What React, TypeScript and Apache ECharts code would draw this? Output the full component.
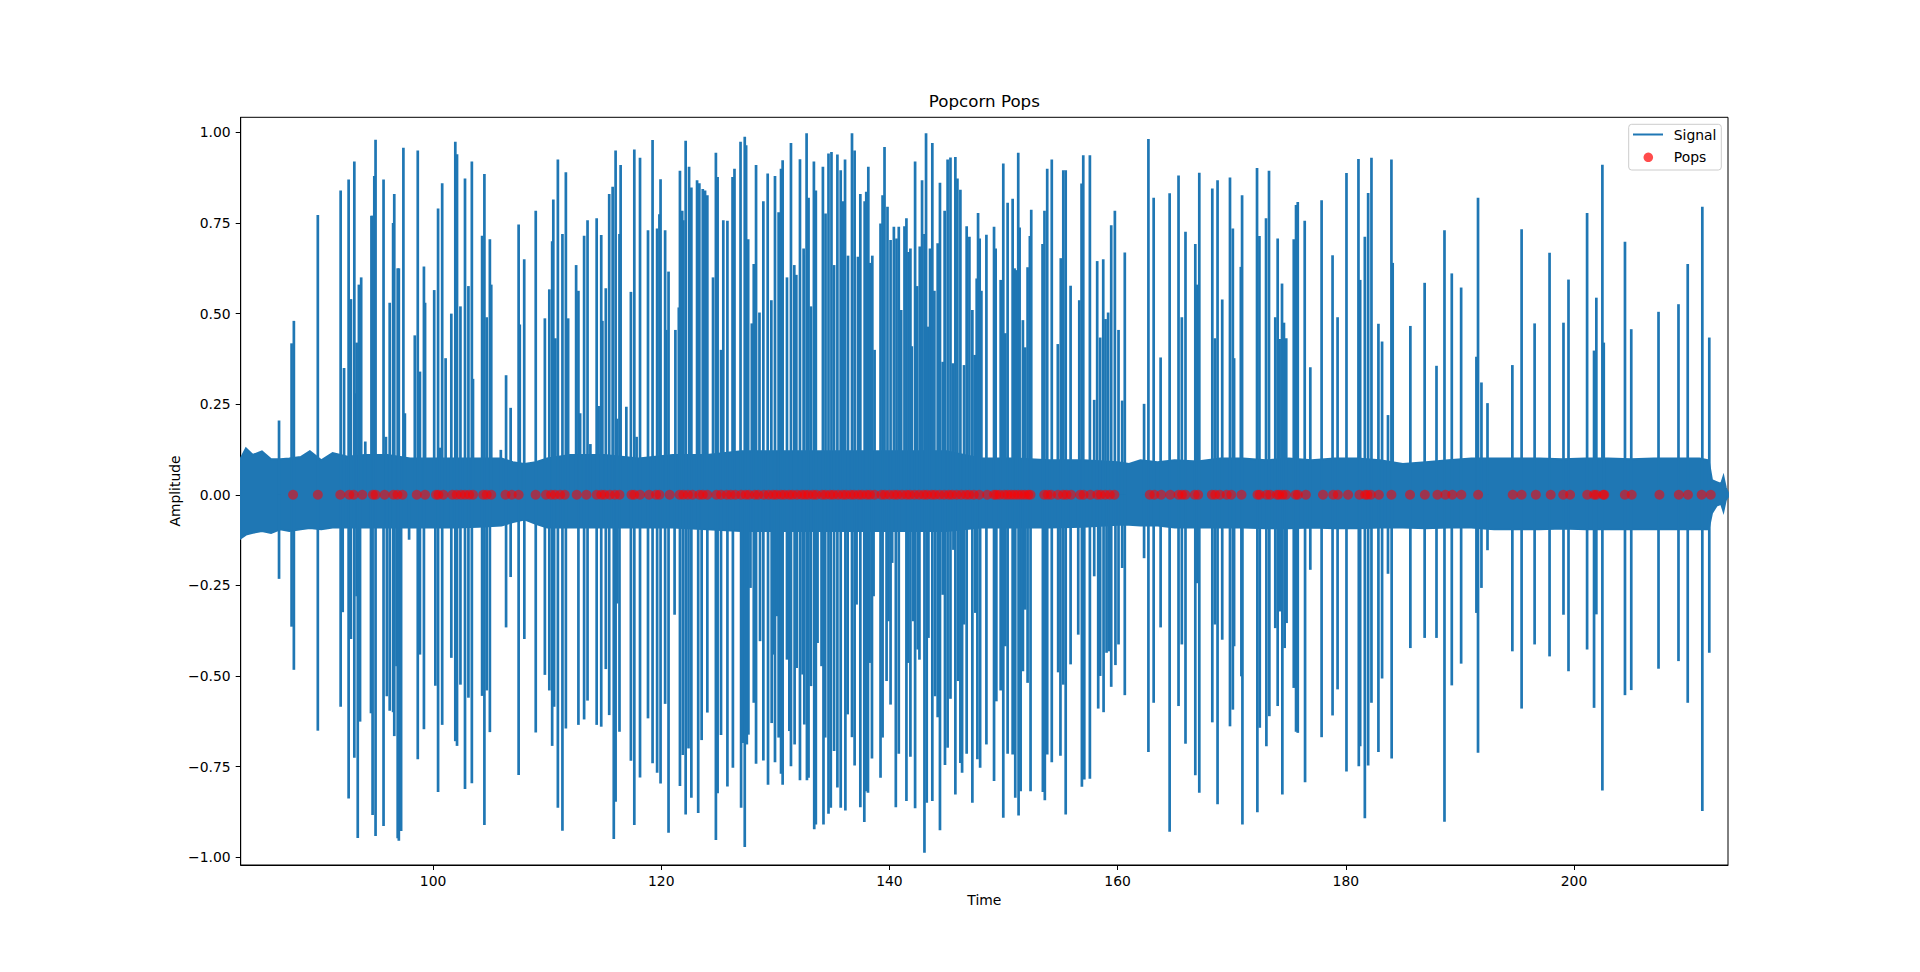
import React, { useEffect, useRef } from 'react';
import * as echarts from 'echarts';

// ---------- data ----------
const xTicks = [100, 120, 140, 160, 180, 200];
const yTicks = [-1, -0.75, -0.5, -0.25, 0, 0.25, 0.5, 0.75, 1];

// positive peaks of the signal: [time, amplitude]
const positiveSpikes: [number, number][] = [
  [86.5,0.205],[87.6,0.418],[87.8,0.48],[89.9,0.772],[91.9,0.84],[92.2,0.35],[92.6,0.87],[92.8,0.54],[93.1,0.92],[93.2,0.28],[93.3,0.42],[93.5,0.58],[93.7,0.6],[94.06,0.147],[94.6,0.77],[94.7,0.77],[94.85,0.88],[94.96,0.98],[95.66,0.87],[95.87,0.16],[96.2,0.53],[96.5,0.75],[96.6,0.83],[96.9,0.625],[97.0,0.625],[97.4,0.958],[97.53,0.225],[98.4,0.44],[98.66,0.95],[98.85,0.34],[99.2,0.63],[99.3,0.53],[100.1,0.565],[100.44,0.79],[100.6,0.13],[100.8,0.86],[101.1,0.377],[101.6,0.5],[101.95,0.974],[102.1,0.94],[102.4,0.52],[102.8,0.873],[103.1,0.576],[103.4,0.92],[103.5,0.32],[104.3,0.715],[104.5,0.885],[104.7,0.49],[104.98,0.705],[105.1,0.58],[105.94,0.124],[106.4,0.33],[106.8,0.24],[107.5,0.746],[107.6,0.47],[107.99,0.65],[109.0,0.784],[109.8,0.487],
  [110.19,0.567],[110.44,0.7],[110.54,0.815],[110.72,0.432],[110.94,0.925],[111.34,0.72],[111.64,0.89],[111.84,0.487],[112.54,0.634],[112.74,0.563],[112.89,0.225],[113.24,0.715],[113.54,0.758],[113.79,0.14],[114.34,0.763],[114.51,0.245],[114.74,0.717],[114.84,0.48],[115.14,0.57],[115.44,0.83],[115.74,0.85],[116.0,0.95],[116.14,0.21],[116.34,0.72],[116.44,0.91],[116.94,0.243],[117.34,0.56],[117.64,0.953],[117.84,0.16],[118.14,0.93],[118.84,0.73],[119.24,0.979],[119.64,0.735],[119.84,0.774],[119.94,0.871],[120.34,0.73],[120.44,0.455],[120.64,0.616],[121.24,0.455],[121.54,0.517],[121.64,0.894],[121.84,0.784],[121.94,0.758],[122.14,0.977],[122.44,0.905],[122.64,0.848],[123.14,0.868],[123.34,0.86],[123.64,0.844],[123.84,0.84],[124.04,0.827],[124.54,0.6],[124.79,0.944],[124.94,0.877],[125.24,0.4],[125.44,0.758],[125.8,0.756],
  [126.25,0.877],[126.42,0.9],[126.95,0.974],[127.32,0.988],[127.44,0.965],[127.62,0.705],[127.94,0.473],[128.11,0.637],[128.31,0.91],[128.61,0.503],[128.95,0.81],[129.33,0.887],[129.65,0.537],[129.97,0.88],[130.29,0.78],[130.5,0.9],[130.64,0.923],[131.02,0.6],[131.37,0.971],[131.66,0.634],[131.84,0.607],[132.16,0.926],[132.48,0.68],[132.74,0.998],[132.91,0.82],[133.12,0.52],[133.38,0.92],[133.55,0.84],[134.17,0.905],[134.4,0.776],[134.66,0.942],[134.92,0.946],[135.15,0.634],[135.44,0.939],[135.73,0.896],[135.96,0.81],[136.11,0.925],[136.37,0.66],[136.72,0.998],[136.95,0.95],[137.24,0.657],[137.45,0.83],[137.83,0.81],[137.97,0.836],[138.15,0.905],[138.32,0.64],[138.5,0.66],[138.7,0.4],[139.22,0.749],[139.4,0.827],[139.57,0.96],[139.83,0.795],[140.1,0.703],[140.39,0.74],[140.62,0.707],[140.82,0.74],[141.03,0.51],[141.32,0.741],[141.49,0.763],[141.67,0.67],[141.84,0.68],[141.96,0.41],[142.25,0.92],[142.43,0.576],[142.66,0.685],[142.86,0.868],[143.07,0.72],[143.21,0.998],[143.36,0.464],[143.56,0.68],[143.76,0.971],[143.94,0.563],[144.23,0.694],[144.43,0.861],[144.67,0.367],[144.84,0.784],[145.1,0.925],[145.35,0.931],[145.55,0.363],[145.78,0.932],[145.96,0.873],[146.22,0.842],[146.54,0.358],[146.77,0.741],[147.01,0.712],[147.27,0.51],[147.47,0.386],[147.65,0.597],[147.77,0.778],[147.91,0.707],
  [148.06,0.563],[148.5,0.718],[149.17,0.74],[149.31,0.68],[149.75,0.593],[149.98,0.914],[150.16,0.446],[150.36,0.806],[150.8,0.817],[150.97,0.625],[151.12,0.62],[151.29,0.944],[151.41,0.738],[151.7,0.482],[151.9,0.407],[152.11,0.628],[152.31,0.714],[152.43,0.787],[153.42,0.692],[153.59,0.784],[153.83,0.9],[154.23,0.925],[154.76,0.416],[155.02,0.653],[155.24,0.896],[155.45,0.896],[155.88,0.577],[156.64,0.537],[156.84,0.859],[156.99,0.937],[157.57,0.937],[157.95,0.262],[158.21,0.645],[158.47,0.434],[158.74,0.65],[158.94,0.485],[159.17,0.503],[159.44,0.744],[159.76,0.784],[160.08,0.455],[160.4,0.26],[160.63,0.669],[162.32,0.251],[162.7,0.982],[163.16,0.82],[163.77,0.379],[164.56,0.832],[165.34,0.881],[165.63,0.49],[165.95,0.726],[166.81,0.692],[166.96,0.58],[167.16,0.889],[168.3,0.845],[168.53,0.432],[168.76,0.868],[169.17,0.539],[169.85,0.876],
  [170.1,0.735],[170.21,0.377],[170.8,0.629],[170.91,0.827],[172.22,0.902],[172.43,0.714],[173.01,0.763],[173.27,0.894],[173.82,0.49],[174.03,0.707],[174.2,0.43],[174.41,0.583],[174.58,0.475],[174.78,0.432],[175.44,0.705],[175.64,0.8],[175.79,0.808],[176.4,0.756],[176.89,0.352],[177.88,0.813],[178.84,0.661],[179.28,0.49],[180.06,0.888],[181.11,0.927],[181.26,0.593],[181.67,0.712],[181.96,0.833],[182.25,0.93],[182.86,0.472],[183.18,0.423],[183.7,0.22],[184.0,0.925],[184.11,0.64],[185.66,0.466],[186.91,0.585],[187.95,0.356],[188.65,0.73],[189.29,0.611],[190.11,0.572],[191.45,0.381],[191.59,0.82],
  [191.89,0.31],[192.42,0.253],[194.6,0.358],[195.41,0.733],[196.55,0.473],[197.86,0.668],[199.08,0.475],[199.52,0.594],[201.15,0.778],[201.76,0.398],[201.96,0.544],[202.49,0.911],[202.61,0.42],[204.47,0.698],[205.02,0.457],[207.41,0.505],[209.16,0.526],[209.97,0.637],[211.25,0.795],[211.86,0.434],
];

// negative peaks of the signal: [time, amplitude]
const negativeSpikes: [number, number][] = [
  [86.5,-0.232],[87.6,-0.364],[87.8,-0.483],[89.9,-0.651],[91.9,-0.585],[92.08,-0.324],[92.6,-0.838],[92.8,-0.398],[93.1,-0.726],[93.3,-0.28],[93.4,-0.947],[93.6,-0.626],[94.56,-0.603],[94.7,-0.884],[94.96,-0.942],[95.66,-0.914],[95.95,-0.556],[96.2,-0.596],[96.5,-0.6],[96.6,-0.666],[96.8,-0.473],[96.9,-0.948],[97.0,-0.955],[97.2,-0.928],[97.9,-0.124],[98.66,-0.73],[98.85,-0.441],[99.2,-0.647],[100.2,-0.527],[100.44,-0.82],[100.8,-0.635],[101.6,-0.45],[101.95,-0.68],[102.1,-0.693],[102.4,-0.524],[102.8,-0.812],[103.1,-0.56],[103.4,-0.796],[104.3,-0.555],[104.5,-0.911],[104.7,-0.54],[104.98,-0.655],[106.4,-0.366],[106.8,-0.227],[107.5,-0.773],[108.0,-0.398],[109.0,-0.656],[109.8,-0.497],
  [110.19,-0.54],[110.44,-0.693],[110.61,-0.585],[110.94,-0.864],[111.34,-0.927],[111.64,-0.645],[112.74,-0.635],[113.24,-0.62],[113.54,-0.568],[114.34,-0.635],[114.74,-0.64],[115.14,-0.481],[115.44,-0.608],[115.84,-0.95],[116.0,-0.847],[116.14,-0.3],[116.34,-0.654],[117.34,-0.734],[117.64,-0.911],[118.14,-0.78],[118.84,-0.617],[119.24,-0.741],[119.64,-0.767],[119.94,-0.797],[120.34,-0.577],[120.64,-0.933],[121.17,-0.331],[121.64,-0.804],[121.89,-0.718],[122.14,-0.882],[122.39,-0.7],[122.64,-0.836],[123.24,-0.878],[123.54,-0.677],[124.04,-0.601],[124.79,-0.953],[124.94,-0.824],[125.24,-0.663],[125.8,-0.805],
  [126.28,-0.753],[127.0,-0.864],[127.15,-0.685],[127.32,-0.972],[127.5,-0.689],[127.64,-0.662],[127.82,-0.257],[128.11,-0.574],[128.31,-0.742],[128.66,-0.404],[128.95,-0.733],[129.36,-0.8],[129.68,-0.63],[129.83,-0.441],[129.97,-0.738],[130.15,-0.335],[130.29,-0.67],[130.5,-0.77],[130.64,-0.8],[131.02,-0.455],[131.23,-0.652],[131.37,-0.749],[131.69,-0.689],[131.87,-0.478],[132.16,-0.788],[132.39,-0.496],[132.54,-0.634],[132.77,-0.788],[132.91,-0.781],[133.12,-0.528],[133.41,-0.923],[133.55,-0.91],[133.7,-0.409],[134.05,-0.473],[134.22,-0.91],[134.37,-0.67],[134.66,-0.88],[134.86,-0.864],[135.15,-0.707],[135.44,-0.808],[135.73,-0.864],[136.14,-0.871],[136.34,-0.606],[136.72,-0.669],[136.95,-0.747],[137.12,-0.303],[137.45,-0.862],[137.8,-0.903],[137.94,-0.818],[138.12,-0.822],[138.26,-0.464],[138.47,-0.728],[138.61,-0.28],[139.22,-0.781],[139.4,-0.67],[139.75,-0.514],[139.92,-0.349],[140.1,-0.579],[140.24,-0.188],[140.56,-0.862],[140.82,-0.715],[141.49,-0.845],[141.64,-0.464],[141.84,-0.723],[142.08,-0.349],[142.25,-0.865],[142.48,-0.427],[142.63,-0.455],[143.07,-0.988],[143.27,-0.85],[143.42,-0.395],[143.76,-0.845],[144.0,-0.556],[144.23,-0.614],[144.43,-0.926],[144.67,-0.276],[144.87,-0.746],[145.1,-0.698],[145.35,-0.563],[145.61,-0.152],[145.78,-0.827],[146.02,-0.514],[146.22,-0.74],[146.37,-0.767],[146.54,-0.358],[146.77,-0.715],[147.27,-0.85],[147.53,-0.326],[147.71,-0.73],[147.95,-0.753],
  [148.5,-0.689],[149.17,-0.79],[149.37,-0.57],[149.75,-0.54],[149.98,-0.891],[150.16,-0.418],[150.36,-0.715],[150.8,-0.717],[151.03,-0.836],[151.32,-0.885],[151.5,-0.818],[151.7,-0.487],[151.9,-0.317],[152.11,-0.519],[152.37,-0.818],[153.45,-0.82],[153.62,-0.843],[153.83,-0.717],[154.23,-0.738],[154.79,-0.49],[154.99,-0.72],[155.24,-0.524],[155.45,-0.882],[155.88,-0.468],[156.55,-0.386],[156.87,-0.806],[157.08,-0.786],[157.57,-0.784],[157.95,-0.225],[158.3,-0.59],[158.47,-0.5],[158.77,-0.6],[159.03,-0.436],[159.23,-0.432],[159.44,-0.53],[159.81,-0.47],[160.08,-0.413],[160.4,-0.202],[160.63,-0.553],[162.32,-0.175],[162.7,-0.71],[163.16,-0.574],[163.77,-0.366],[164.56,-0.93],[165.34,-0.583],[165.63,-0.413],[165.95,-0.687],[166.81,-0.774],[166.96,-0.244],[167.16,-0.822],[168.3,-0.628],[168.53,-0.358],[168.76,-0.854],[169.17,-0.4],[169.85,-0.639],
  [170.1,-0.593],[170.21,-0.418],[170.85,-0.501],[170.94,-0.91],[172.25,-0.876],[172.46,-0.643],[173.04,-0.694],[173.3,-0.611],[173.82,-0.368],[174.03,-0.583],[174.23,-0.322],[174.44,-0.827],[174.64,-0.423],[174.81,-0.354],[175.44,-0.533],[175.64,-0.654],[175.79,-0.657],[176.43,-0.793],[176.89,-0.207],[177.88,-0.669],[178.84,-0.609],[179.28,-0.537],[180.06,-0.764],[181.14,-0.749],[181.26,-0.694],[181.67,-0.893],[181.96,-0.747],[182.25,-0.574],[182.86,-0.71],[183.18,-0.507],[183.7,-0.218],[184.02,-0.728],[185.66,-0.423],[186.91,-0.395],[187.95,-0.395],[188.65,-0.902],[189.29,-0.526],[190.11,-0.466],[191.45,-0.326],[191.59,-0.712],
  [191.89,-0.257],[192.42,-0.153],[194.6,-0.432],[195.41,-0.59],[196.55,-0.413],[197.86,-0.446],[199.08,-0.331],[199.52,-0.487],[201.15,-0.427],[201.76,-0.588],[201.96,-0.33],[202.49,-0.816],[204.47,-0.553],[205.02,-0.539],[207.41,-0.48],[209.16,-0.459],[209.97,-0.574],[211.25,-0.873],[211.86,-0.436],
];

// envelope of the background noise band
const noiseTimes = [83.14,83.6,84.2,85,85.8,86.6,87.4,88.4,89.2,90.2,91.2,92.5,94,96,98,100,102,104,106,107,108,109,110,112,115,118,121,124,127,130,133,136,139,142,145,148,151,154,157,160,161,162,163.5,165,167,169,171,173,175,177,179,181,183,185,187,189,191,193,195,197,199,201,203,205,207,209,211,211.8,212.1,212.5,212.9,213.1,213.3,213.5];
const noiseUpper = [0.10,0.128,0.11,0.12,0.098,0.098,0.1,0.104,0.12,0.095,0.115,0.105,0.11,0.11,0.1,0.1,0.1,0.1,0.1,0.09,0.085,0.09,0.1,0.11,0.11,0.1,0.11,0.11,0.12,0.12,0.12,0.12,0.12,0.12,0.12,0.1,0.1,0.095,0.095,0.09,0.085,0.095,0.09,0.095,0.092,0.1,0.1,0.095,0.1,0.095,0.1,0.1,0.095,0.085,0.09,0.095,0.1,0.1,0.1,0.1,0.098,0.1,0.1,0.098,0.1,0.1,0.1,0.095,0.04,0.035,0.03,0.05,0.02,0.005];
const noiseLower = [-0.12,-0.11,-0.105,-0.1,-0.105,-0.095,-0.1,-0.095,-0.092,-0.095,-0.09,-0.09,-0.09,-0.09,-0.09,-0.09,-0.09,-0.088,-0.085,-0.075,-0.068,-0.08,-0.09,-0.09,-0.09,-0.09,-0.09,-0.095,-0.1,-0.1,-0.1,-0.1,-0.1,-0.1,-0.1,-0.09,-0.09,-0.09,-0.088,-0.083,-0.083,-0.085,-0.085,-0.09,-0.09,-0.09,-0.09,-0.092,-0.092,-0.09,-0.092,-0.092,-0.09,-0.09,-0.092,-0.09,-0.09,-0.095,-0.095,-0.095,-0.093,-0.095,-0.095,-0.095,-0.095,-0.095,-0.095,-0.095,-0.05,-0.03,-0.025,-0.045,-0.015,-0.005];

// detected pops (plotted at amplitude 0)
const popTimes = [
  87.73,89.9,91.87,92.66,93.04,93.8,94.73,94.96,95.75,96.53,96.88,97.32,98.57,99.3,100.26,100.47,100.9,101.7,102.07,102.45,102.8,103.17,103.5,104.4,104.7,105.1,106.35,106.9,107.5,108.99,109.9,110.34,110.69,111.14,111.54,112.59,113.44,114.34,114.74,115.04,115.5,115.94,116.34,117.39,117.64,118.14,118.94,119.54,119.84,120.74,121.61,121.94,122.34,122.74,123.34,123.64,124.04,124.84,125.24,125.74,
  126.1,126.5,127.0,127.4,127.7,128.2,128.5,129.0,129.4,129.8,130.1,130.5,130.8,131.2,131.5,131.9,132.3,132.6,132.9,133.3,133.6,134.1,134.4,134.8,135.1,135.5,135.9,136.2,136.6,136.9,137.3,137.6,138.0,138.3,138.7,139.3,139.6,140.0,140.4,140.7,141.1,141.5,141.8,142.2,142.6,143.0,143.3,143.7,144.0,144.4,144.8,145.2,145.5,145.9,146.3,146.7,147.0,147.4,147.87,
  148.57,149.17,149.37,149.67,150.07,150.37,150.67,150.97,151.27,151.57,151.87,152.17,152.37,153.57,153.87,154.17,154.77,155.22,155.52,155.92,156.72,157.02,157.62,158.22,158.52,158.92,159.32,159.72,162.82,163.22,163.82,164.62,165.34,165.64,165.94,166.76,167.06,168.26,168.56,168.96,169.56,
  169.96,170.86,172.26,172.46,173.06,173.36,173.96,174.16,174.46,174.76,175.6,175.8,176.5,178.0,178.9,179.3,180.2,181.2,181.7,181.9,182.2,182.9,184.0,185.63,186.93,188.03,188.73,189.33,190.13,191.6,
  194.63,195.41,196.66,197.96,199.06,199.66,201.16,201.76,201.96,202.56,202.66,204.46,205.06,207.49,209.19,209.99,211.19,211.99,
];

// ---------- styling ----------
const BLUE = '#1f77b4';
const POP_COLOR = 'rgba(255,0,0,0.7)';
const FONT = 'DejaVu Sans';
const X_MIN = 83.14;
const X_MAX = 213.5;
const Y_MIN = -1.0217;
const Y_MAX = 1.0418;
const GRID = { left: 240.7, right: 192, top: 117.3, bottom: 107 };
const PLOT_CX = GRID.left + (1920 - GRID.left - GRID.right) / 2;

const fmtY = (v: number) => {
  const s = Math.abs(v).toFixed(2);
  return v < -1e-9 ? '\u2212' + s : s;
};

export default function App() {
  const ref = useRef<HTMLDivElement>(null);

  useEffect(() => {
    if (!ref.current) return;
    const chart = echarts.init(ref.current, null, { renderer: 'svg' });

    const spikeData = [...positiveSpikes, ...negativeSpikes];
    const popData = popTimes.map((t) => [t, 0]);

    chart.setOption({
      animation: false,
      backgroundColor: '#ffffff',
      textStyle: { fontFamily: FONT },
      grid: {
        left: GRID.left,
        right: GRID.right,
        top: GRID.top,
        bottom: GRID.bottom,
        show: true,
        borderColor: '#000',
        borderWidth: 1,
        backgroundColor: 'transparent',
        containLabel: false,
      },
      xAxis: {
        type: 'value',
        min: X_MIN,
        max: X_MAX,
        axisLine: { show: true, onZero: false, lineStyle: { color: '#000', width: 1 } },
        axisTick: { show: true, inside: false, length: 5, customValues: xTicks, lineStyle: { color: '#000', width: 1 } },
        axisLabel: {
          show: true,
          customValues: xTicks,
          margin: 8.5,
          color: '#000',
          fontFamily: FONT,
          fontSize: 13.9,
          formatter: (v: number) => String(Math.round(v)),
        },
        splitLine: { show: false },
      },
      yAxis: {
        type: 'value',
        min: Y_MIN,
        max: Y_MAX,
        axisLine: { show: true, onZero: false, lineStyle: { color: '#000', width: 1 } },
        axisTick: { show: true, inside: false, length: 5, customValues: yTicks, lineStyle: { color: '#000', width: 1 } },
        axisLabel: {
          show: true,
          customValues: yTicks,
          margin: 10,
          color: '#000',
          fontFamily: FONT,
          fontSize: 13.9,
          formatter: (v: number) => fmtY(v),
        },
        splitLine: { show: false },
      },
      series: [
        {
          name: 'Signal noise',
          type: 'custom',
          coordinateSystem: 'cartesian2d',
          clip: true,
          silent: true,
          z: 1,
          data: [[noiseTimes[0], 0]],
          encode: { x: 0, y: 1 },
          renderItem: (_params: any, api: any) => {
            const pts: number[][] = [];
            for (let i = 0; i < noiseTimes.length; i++) pts.push(api.coord([noiseTimes[i], noiseUpper[i]]));
            for (let i = noiseTimes.length - 1; i >= 0; i--) pts.push(api.coord([noiseTimes[i], noiseLower[i]]));
            return {
              type: 'polygon',
              shape: { points: pts },
              style: { fill: BLUE, stroke: BLUE, lineWidth: 2 },
            };
          },
        },
        {
          name: 'Signal',
          type: 'custom',
          coordinateSystem: 'cartesian2d',
          clip: true,
          silent: true,
          z: 2,
          data: spikeData,
          encode: { x: 0, y: 1 },
          renderItem: (_params: any, api: any) => {
            const t = api.value(0);
            const v = api.value(1);
            const p = api.coord([t, v]);
            const o = api.coord([t, 0]);
            return {
              type: 'line',
              shape: { x1: o[0], y1: o[1], x2: p[0], y2: p[1] },
              style: { stroke: BLUE, lineWidth: 2.7, lineCap: 'butt' },
            };
          },
        },
        {
          name: 'Pops',
          type: 'scatter',
          z: 3,
          silent: true,
          symbol: 'circle',
          symbolSize: 10,
          data: popData,
          itemStyle: { color: POP_COLOR, borderWidth: 0 },
        },
      ],
      graphic: [
        {
          type: 'text',
          x: PLOT_CX,
          y: 101,
          style: {
            text: 'Popcorn Pops',
            fill: '#000',
            font: `16.7px "${FONT}"`,
            align: 'center',
            verticalAlign: 'middle',
          },
        },
        {
          type: 'text',
          x: PLOT_CX,
          y: 899.5,
          style: {
            text: 'Time',
            fill: '#000',
            font: `13.9px "${FONT}"`,
            align: 'center',
            verticalAlign: 'middle',
          },
        },
        {
          type: 'text',
          x: 175,
          y: 491,
          rotation: Math.PI / 2,
          style: {
            text: 'Amplitude',
            fill: '#000',
            font: `13.9px "${FONT}"`,
            align: 'center',
            verticalAlign: 'middle',
          },
        },
        {
          type: 'group',
          z: 100,
          children: [
            {
              type: 'rect',
              shape: { x: 1628.7, y: 124.3, width: 92.6, height: 45.7, r: 3 },
              style: { fill: 'rgba(255,255,255,0.8)', stroke: '#cccccc', lineWidth: 1 },
              z: 100,
            },
            {
              type: 'line',
              shape: { x1: 1633, y1: 134.5, x2: 1663, y2: 134.5 },
              style: { stroke: BLUE, lineWidth: 2 },
              z: 101,
            },
            {
              type: 'text',
              x: 1673.8,
              y: 134.5,
              style: {
                text: 'Signal',
                fill: '#000',
                font: `13.9px "${FONT}"`,
                align: 'left',
                verticalAlign: 'middle',
              },
              z: 101,
            },
            {
              type: 'circle',
              shape: { cx: 1648.3, cy: 157.3, r: 4.8 },
              style: { fill: POP_COLOR },
              z: 101,
            },
            {
              type: 'text',
              x: 1673.8,
              y: 157.3,
              style: {
                text: 'Pops',
                fill: '#000',
                font: `13.9px "${FONT}"`,
                align: 'left',
                verticalAlign: 'middle',
              },
              z: 101,
            },
          ],
        },
      ],
    });

    return () => {
      chart.dispose();
    };
  }, []);

  return (
    <div
      ref={ref}
      style={{ position: 'fixed', left: 0, top: 0, width: 1920, height: 972, background: '#ffffff' }}
    />
  );
}
